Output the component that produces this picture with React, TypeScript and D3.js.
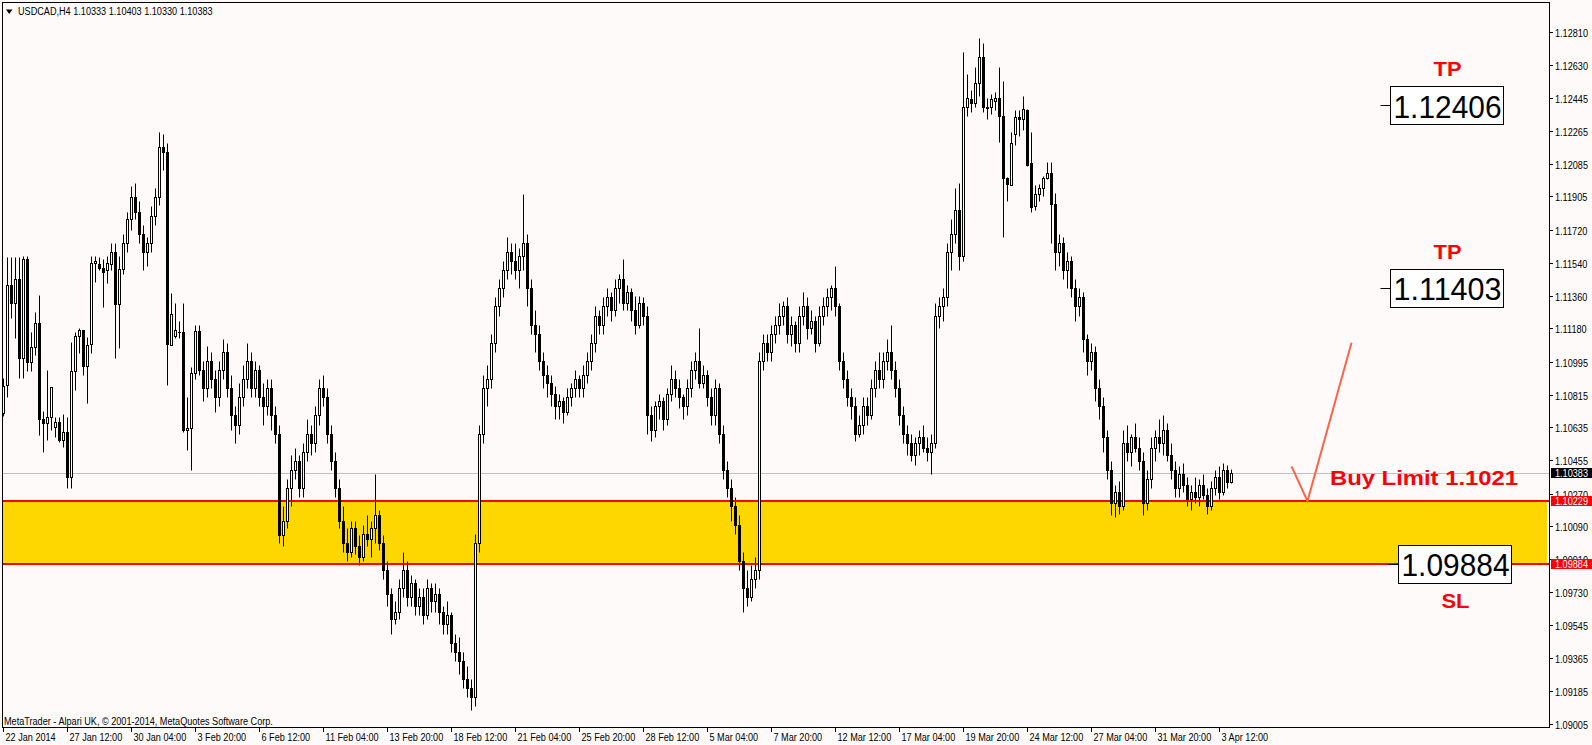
import React from "react";
import * as d3 from "d3";

const WIDTH = 1592;
const HEIGHT = 745;

// USDCAD H4 bars, prices in pips above 1.0000 (1038.3 -> 1.10383)
const OPEN = [
  1071.6,1086.8,1141.8,1132.1,1145,1101.5,1156,1099.7,1107.9,1120.7,
  1067.9,1065.7,1069,1063.9,1066.3,1056.6,1060.8,1036,1094.5,1113.8,
  1117.1,1097.3,1109.2,1154.1,1153.4,1151,1150.1,1153.4,1160,1131.2,
  1150.6,1165,1178,1190,1182,1170,1160,1165,1180,1190,
  1218,1215,1108.8,1113.8,1116,1116.2,1062.1,1063.3,1093.2,1116.5,
  1095,1085,1100,1090,1080,1095,1105,1085,1070,1065,
  1080,1090,1100,1085,1095,1080,1075,1085,1070,1060,
  1004,1012,1030,1040,1045,1030,1050,1060,1055,1070,
  1085,1080,1060,1045,1030,1012,1000,995,1008,998,
  992,1005,1002,1008,1015,1000,985,972,958,962,
  975,985,970,978,965,970,960,975,968,972,
  962,955,960,945,940,935,925,920,915,1000,
  1060,1085,1090,1110,1130,1140,1150,1160,1155,1150,
  1158,1165,1140,1120,1115,1100,1092,1088,1082,1075,
  1078,1072,1080,1085,1090,1085,1092,1100,1110,1125,
  1120,1130,1135,1128,1140,1145,1132,1138,1128,1120,
  1132,1125,1070,1062,1075,1078,1068,1082,1090,1085,
  1080,1075,1085,1095,1100,1088,1092,1080,1070,1085,
  1060,1040,1030,1020,1010,990,975,970,980,985,
  1100,1110,1105,1115,1120,1125,1130,1115,1120,1110,
  1125,1130,1118,1122,1110,1125,1130,1135,1140,1130,
  1100,1090,1080,1075,1060,1065,1075,1070,1085,1095,
  1090,1100,1105,1095,1085,1070,1060,1055,1048,1055,
  1058,1052,1050,1055,1125,1130,1135,1160,1170,1183,
  1158,1240,1244,1242,1253,1267,1240,1239.6,1243,1244.7,
  1234.8,1200.5,1197,1225,1234,1233,1238,1208.7,1185,1192,
  1195,1200.5,1203.6,1186.4,1160,1165,1150,1155,1140,1130,
  1135,1112,1100,1105,1085,1075,1058,1040,1022,1028,
  1020,1055,1050,1058,1052,1045,1022,1035,1052,1058,
  1055,1062,1048,1040,1030,1038,1032,1024,1028,1025,
  1032,1026,1020,1030,1036,1028,1040,1033.3,
];
const HIGH = [
  1090.5,1157,1157,1157,1157,1158,1158,1116.2,1127.2,1136.3,
  1072.2,1095.1,1085.9,1069.4,1069.4,1070.9,1069,1110.7,1116.2,1118,
  1117.1,1113.4,1158,1158,1157,1156,1158,1165,1165,1158,
  1170,1182,1196,1198,1188,1175,1168,1185,1195,1226,
  1225,1220,1137.2,1132.1,1122,1132.1,1080.4,1096.9,1120,1120,
  1100,1108,1105,1095,1100,1112,1110,1092,1075,1088,
  1098,1110,1105,1100,1098,1088,1090,1090,1075,1065,
  1020,1035,1048,1052,1048,1055,1068,1065,1075,1090,
  1092,1085,1065,1050,1035,1020,1008,1012,1012,1004,
  1010,1015,1012,1038,1018,1004,990,975,968,980,
  995,990,982,980,975,975,980,978,978,975,
  965,968,962,950,948,940,932,925,1005,1065,
  1092,1098,1115,1135,1145,1155,1168,1165,1165,1162,
  1192,1170,1145,1128,1120,1105,1098,1092,1086,1082,
  1080,1085,1088,1095,1092,1098,1105,1115,1130,1128,
  1135,1140,1138,1145,1148,1156,1142,1140,1136,1136,
  1135,1130,1075,1078,1082,1080,1085,1098,1095,1090,
  1082,1090,1100,1105,1118,1098,1095,1085,1090,1088,
  1065,1045,1035,1025,1015,995,985,988,992,1105,
  1115,1115,1120,1125,1132,1133,1135,1125,1122,1130,
  1138,1135,1128,1125,1130,1135,1140,1142,1152,1132,
  1105,1095,1085,1080,1070,1080,1080,1090,1100,1105,
  1105,1112,1120,1100,1090,1075,1065,1060,1058,1062,
  1065,1058,1060,1132,1135,1140,1165,1178,1195,1198,
  1270,1258,1249,1262,1277.5,1275,1244.5,1247,1248,1261.6,
  1254,1201,1226,1238,1238,1246,1238.5,1226,1197,1197.4,
  1202,1209.5,1209.5,1192.6,1170,1168,1160,1158,1145,1140,
  1138,1115,1110,1108,1090,1080,1062,1045,1032,1034,
  1062,1065,1060,1066,1058,1050,1040,1058,1062,1068,
  1070,1066,1055,1045,1042,1044,1036,1032,1036,1035,
  1038,1030,1034,1040,1042,1044,1043,1040.3,
];
const LOW = [
  1069.8,1080.4,1123.5,1112.5,1090.5,1090.5,1094.2,1094.2,1103.3,1059.3,
  1050.1,1056.6,1062.1,1058.4,1055.6,1052.9,1030.3,1030,1084.1,1104.2,
  1092.3,1076.7,1104.2,1143.7,1150.1,1129.9,1142.8,1150,1101.5,1107,
  1148,1160,1172,1178,1165,1150,1152,1160,1175,1186,
  1205,1086.8,1108.8,1112.5,1112.5,1061.1,1051,1040,1090,1092,
  1078,1080,1085,1072,1075,1090,1080,1062,1055,1060,
  1075,1085,1080,1080,1075,1065,1070,1062,1055,1000,
  998,1008,1020,1035,1025,1025,1045,1048,1050,1065,
  1075,1055,1040,1025,1008,995,990,992,994,988,
  990,998,992,1000,996,980,965,950,955,958,
  970,965,965,960,960,955,958,962,962,955,
  950,950,940,935,928,920,915,908,910,995,
  1055,1075,1085,1105,1125,1135,1145,1148,1145,1140,
  1150,1130,1115,1105,1095,1085,1080,1075,1068,1068,
  1066,1070,1075,1080,1080,1080,1088,1095,1105,1115,
  1115,1125,1122,1125,1132,1128,1128,1122,1115,1118,
  1120,1060,1056,1058,1068,1062,1065,1078,1080,1074,
  1068,1070,1080,1090,1085,1085,1075,1065,1065,1055,
  1035,1025,1012,1005,985,962,965,968,975,980,
  1095,1100,1100,1110,1115,1120,1110,1108,1105,1105,
  1120,1112,1115,1105,1108,1120,1125,1128,1125,1095,
  1085,1075,1068,1056,1058,1060,1065,1068,1080,1085,
  1085,1095,1090,1080,1065,1055,1048,1045,1043,1048,
  1050,1045,1038,1052,1118,1122,1130,1150,1165,1150,
  1155,1235,1237,1240,1246,1237,1233,1236,1238,1220.7,
  1168,1188,1197,1219,1224,1227,1207,1182,1183,1188,
  1191,1200,1165,1150,1152,1145,1140,1135,1122,1125,
  1105,1092,1095,1078,1068,1050,1035,1015,1014,1016,
  1018,1045,1042,1050,1040,1015,1018,1030,1045,1050,
  1048,1045,1035,1025,1025,1028,1020,1018,1022,1020,
  1024,1016,1018,1026,1024,1026,1030,1033,
];
const CLOSE = [
  1086.3,1141.8,1132.1,1145,1101.5,1156,1099.7,1107.9,1120.7,1067.9,
  1066.1,1069,1085.4,1066.3,1056.6,1060.8,1036,1094.5,1113.8,1117.1,
  1097.3,1108.8,1154.1,1155,1151,1149.2,1154.1,1160,1131.2,1150.6,
  1165,1178,1190,1182,1170,1160,1165,1180,1190,1218,
  1215,1109.2,1125.9,1117.1,1116.2,1062.1,1063.3,1093.2,1116.5,1095,
  1085,1100,1090,1080,1095,1105,1085,1070,1065,1080,
  1090,1100,1085,1095,1080,1075,1085,1070,1060,1004,
  1012,1030,1040,1045,1030,1050,1060,1055,1070,1085,
  1080,1060,1045,1030,1012,1000,995,1008,998,992,
  1005,1002,1008,1015,1000,985,972,958,962,975,
  985,970,978,965,970,960,975,968,972,962,
  955,960,945,940,935,925,920,915,1000,1060,
  1085,1090,1110,1130,1140,1150,1160,1155,1150,1158,
  1165,1140,1120,1115,1100,1092,1088,1082,1075,1078,
  1072,1080,1085,1090,1085,1092,1100,1110,1125,1120,
  1130,1135,1128,1140,1145,1132,1138,1128,1120,1132,
  1125,1070,1062,1075,1078,1068,1082,1090,1085,1080,
  1075,1085,1095,1100,1088,1092,1080,1070,1085,1060,
  1040,1030,1020,1010,990,975,970,980,985,1100,
  1110,1105,1115,1120,1125,1130,1115,1120,1110,1125,
  1130,1118,1122,1110,1125,1130,1135,1140,1130,1100,
  1090,1080,1075,1060,1065,1075,1070,1085,1095,1090,
  1100,1105,1095,1085,1070,1060,1055,1048,1055,1058,
  1052,1050,1055,1125,1130,1135,1160,1170,1183,1158,
  1240,1244.5,1242,1253,1267,1240,1239.4,1244,1244.7,1234.8,
  1200.5,1197.4,1219.7,1234,1233,1238.5,1208,1184.5,1192,1195,
  1200.5,1203.6,1186.4,1160,1165,1150,1155,1140,1130,1135,
  1112,1100,1105,1085,1075,1058,1040,1022,1028,1020,
  1055,1050,1058,1052,1045,1022,1035,1052,1058,1055,
  1062,1048,1040,1030,1038,1032,1024,1028,1025,1032,
  1026,1020,1030,1036,1028,1040,1033.3,1038.3,
];

const SYMBOL_TITLE = "USDCAD,H4  1.10333 1.10403 1.10330 1.10383";
const COPYRIGHT = "MetaTrader - Alpari UK, \u00A9 2001-2014, MetaQuotes Software Corp.";

const TIME_LABELS = [
  "22 Jan 2014", "27 Jan 12:00", "30 Jan 04:00", "3 Feb 20:00", "6 Feb 12:00",
  "11 Feb 04:00", "13 Feb 20:00", "18 Feb 12:00", "21 Feb 04:00", "25 Feb 20:00",
  "28 Feb 12:00", "5 Mar 04:00", "7 Mar 20:00", "12 Mar 12:00", "17 Mar 04:00",
  "19 Mar 20:00", "24 Mar 12:00", "27 Mar 04:00", "31 Mar 20:00", "3 Apr 12:00",
];
const BARS_PER_LABEL = 16;

const PRICE_TICKS = [
  1.1281, 1.1263, 1.12445, 1.12265, 1.12085, 1.11905, 1.1172, 1.1154, 1.1136, 1.1118, 1.10995,
  1.10815, 1.10635, 1.10455, 1.1027, 1.1009, 1.0991, 1.0973, 1.09545, 1.09365, 1.09185, 1.09005,
];

const BID = 1.10383;
const ZONE_TOP = 1.10229;
const ZONE_BOTTOM = 1.09884;
const LEVELS = [
  { price: 1.12406, caption: "TP", above: true, boxLeft: 1390 },
  { price: 1.11403, caption: "TP", above: true, boxLeft: 1390 },
  { price: 1.09884, caption: "SL", above: false, boxLeft: 1398 },
];
const ENTRY_TEXT = "Buy Limit 1.1021";
// check-mark trendline anchors: [bar index, price]
const ARROW: [number, number][] = [[322, 1.1042], [326, 1.10229], [337, 1.111]];

const FONT = "'Liberation Sans', Arial, sans-serif";
const BG = "#FFFAFA";

const PLOT_LEFT = 2.5;
const PLOT_TOP = 2.5;
const PLOT_RIGHT = 1549.5;
const PLOT_BOTTOM = 727.5;

const pip = (v: number) => 1 + v / 10000;
const snap = (v: number) => Math.round(v) + 0.5;

function SmallText({ x, y, children, fill = "#000" }: { x: number; y: number; children: React.ReactNode; fill?: string }) {
  return (
    <text transform={`translate(${x},${y}) scale(0.83,1)`} fontFamily={FONT} fontSize={11} fill={fill}>
      {children}
    </text>
  );
}

export default function App() {
  const n = CLOSE.length;
  const x = d3.scaleLinear().domain([0, 1]).range([3.5, 7.5]);
  const y = d3.scaleLinear().domain([1.089859, 1.129696]).range([727, 3]);

  const zoneTop = Math.round(y(ZONE_TOP));
  const zoneBottom = Math.round(y(ZONE_BOTTOM));
  const bidY = snap(y(BID));

  const candles = d3.range(n).map((k) => {
    const cx = Math.floor(x(k)) + 0.5;
    const o = pip(OPEN[k]);
    const c = pip(CLOSE[k]);
    const yH = snap(y(pip(HIGH[k])));
    const yL = snap(y(pip(LOW[k])));
    const yO = snap(y(o));
    const yC = snap(y(c));
    const top = Math.min(yO, yC);
    const h = Math.abs(yO - yC);
    const bull = c > o;
    return (
      <g key={k}>
        <line x1={cx} x2={cx} y1={yH} y2={yL} stroke="#000" strokeWidth={1} />
        {h < 1 ? (
          <line x1={cx - 1.5} x2={cx + 1.5} y1={top} y2={top} stroke="#000" strokeWidth={1} />
        ) : (
          <rect x={cx - 1} y={top} width={2} height={h} fill={bull ? "#FFFFFF" : "#000"} stroke="#000" strokeWidth={1} />
        )}
      </g>
    );
  });

  const arrowPath = d3
    .line<[number, number]>()
    .x((d) => x(d[0]))
    .y((d) => y(d[1]))(ARROW) as string;

  return (
    <svg
      width={WIDTH}
      height={HEIGHT}
      style={{ position: "absolute", left: 0, top: 0, display: "block", background: BG }}
    >
      <rect x={0} y={0} width={WIDTH} height={HEIGHT} fill={BG} />
      <defs>
        <clipPath id="plot-area">
          <rect x={3} y={3} width={1546} height={724} />
        </clipPath>
      </defs>

      <g clipPath="url(#plot-area)">
        {/* buy zone */}
        <rect x={3} y={zoneTop} width={1544} height={zoneBottom - zoneTop} fill="#FFD700" />
        <line x1={3} x2={1549} y1={zoneTop} y2={zoneTop} stroke="#FF0000" strokeWidth={2} />
        <line x1={3} x2={1549} y1={zoneBottom} y2={zoneBottom} stroke="#FF0000" strokeWidth={2} />
        {/* bid line */}
        <line x1={3} x2={1549} y1={bidY} y2={bidY} stroke="#C0C0C0" strokeWidth={1} />

        {candles}

        <path d={arrowPath} fill="none" stroke="#FF6347" strokeWidth={2} />
        <text
          x={1330}
          y={485}
          fontFamily={FONT}
          fontWeight={900}
          fontSize={20}
          fill="#FF0000"
          textLength={188}
          lengthAdjust="spacingAndGlyphs"
        >
          {ENTRY_TEXT}
        </text>

        {LEVELS.map((lv, i) => {
          const cy = y(lv.price);
          const bx = lv.boxLeft + 0.5;
          const by = Math.round(cy - 19) + 0.5;
          const capY = lv.above ? cy - 29 : cy + 44;
          return (
            <g key={i}>
              <line x1={bx - 10} x2={bx} y1={snap(cy)} y2={snap(cy)} stroke="#000" strokeWidth={1} />
              <rect x={bx} y={by} width={113} height={38} fill="#FFFFFF" stroke="#000" strokeWidth={1} />
              <text
                x={bx + 3}
                y={cy + 12.5}
                fontFamily={FONT}
                fontSize={32}
                fill="#000"
                textLength={108}
                lengthAdjust="spacingAndGlyphs"
              >
                {lv.price.toFixed(5)}
              </text>
              <text
                x={bx + 57}
                y={capY}
                textAnchor="middle"
                fontFamily={FONT}
                fontWeight={900}
                fontSize={21}
                fill="#FF0000"
                textLength={28}
                lengthAdjust="spacingAndGlyphs"
              >
                {lv.caption}
              </text>
            </g>
          );
        })}

        <SmallText x={4} y={725}>{COPYRIGHT}</SmallText>
      </g>

      {/* frame */}
      <rect
        x={PLOT_LEFT}
        y={PLOT_TOP}
        width={PLOT_RIGHT - PLOT_LEFT}
        height={PLOT_BOTTOM - PLOT_TOP}
        fill="none"
        stroke="#000"
        strokeWidth={1}
      />

      {/* price axis */}
      {PRICE_TICKS.map((p) => {
        const ty = snap(y(p));
        return (
          <g key={p}>
            <line x1={1549} x2={1553} y1={ty} y2={ty} stroke="#000" />
            <SmallText x={1555} y={ty + 4}>{p.toFixed(5)}</SmallText>
          </g>
        );
      })}

      {/* price tags */}
      {[
        { p: BID, color: "#000000" },
        { p: ZONE_TOP, color: "#FF0000" },
        { p: ZONE_BOTTOM, color: "#FF0000" },
      ].map((t) => {
        const ty = Math.round(y(t.p));
        return (
          <g key={t.p}>
            <rect x={1551} y={ty - 5} width={41} height={10} fill={t.color} />
            <SmallText x={1555} y={ty + 4} fill="#FFFFFF">{t.p.toFixed(5)}</SmallText>
          </g>
        );
      })}

      {/* time axis */}
      {TIME_LABELS.map((label, i) => {
        const tx = Math.floor(x(i * BARS_PER_LABEL)) + 0.5;
        return (
          <g key={label}>
            <line x1={tx} x2={tx} y1={728} y2={732} stroke="#000" />
            <SmallText x={tx + 2} y={741}>{label}</SmallText>
          </g>
        );
      })}

      {/* title */}
      <path d="M6,9.5 L12.5,9.5 L9.25,14 Z" fill="#000" />
      <SmallText x={18} y={15}>{SYMBOL_TITLE}</SmallText>
    </svg>
  );
}
